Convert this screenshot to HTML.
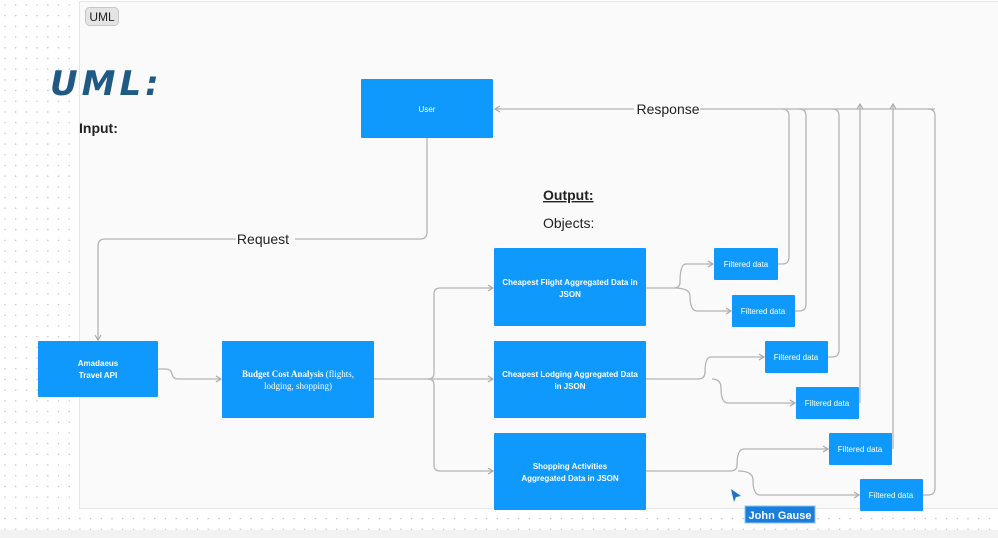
<!DOCTYPE html>
<html><head><meta charset="utf-8"><style>
html,body{margin:0;padding:0;width:998px;height:538px;overflow:hidden;background:#fff;font-family:"Liberation Sans",sans-serif}
</style></head><body>
<svg width="998" height="538" xmlns="http://www.w3.org/2000/svg" font-family="Liberation Sans, sans-serif">
<defs>
<pattern id="dots" width="10.7" height="10.7" patternUnits="userSpaceOnUse"><circle cx="5" cy="5" r="0.7" fill="#c0c0c0"/></pattern>
<marker id="ar" markerWidth="8" markerHeight="8" refX="6" refY="4" orient="auto" markerUnits="userSpaceOnUse"><path d="M1,1 L6,4 L1,7" fill="none" stroke="#aaa" stroke-width="1.2"/></marker>
</defs>
<rect width="998" height="538" fill="url(#dots)"/>
<rect x="0" y="530" width="998" height="8" fill="#f2f2f2"/>
<rect x="79.5" y="1.5" width="930" height="507" fill="#fafafa" stroke="#e6e6e6"/>
<rect x="85.5" y="7.5" width="33" height="18" rx="4" fill="#e4e4e4" stroke="#c8c8c8"/>
<text x="102" y="21" font-size="12" text-anchor="middle" fill="#222">UML</text>
<text x="50" y="95" font-size="34" font-weight="bold" fill="#1f5a85" font-style="italic" font-family="DejaVu Sans, sans-serif" letter-spacing="4">UML:</text>
<text x="79" y="133" font-size="14" font-weight="bold" fill="#222">Input:</text>
<text x="543" y="200" font-size="14" font-weight="bold" fill="#222" text-decoration="underline">Output:</text>
<text x="543" y="228" font-size="14" fill="#222">Objects:</text>
<g fill="none" stroke="#b4b4b4" stroke-width="1.3">
<path d="M427,138 V232 Q427,239 420,239 H295"/>
<path d="M236,239 H105 Q98,239 98,246 V340" marker-end="url(#ar)"/>
<path d="M158,369 H166 Q171,369 172,374 Q173,379 178,379 H221" marker-end="url(#ar)"/>
<path d="M374,379 H428 Q434,379 434,373 V294 Q434,288 440,288 H493" marker-end="url(#ar)"/>
<path d="M428,379 H493" marker-end="url(#ar)"/>
<path d="M428,379 Q434,379 434,385 V465 Q434,471 440,471 H493" marker-end="url(#ar)"/>
<path d="M700,109 H935"/>
<path d="M634,109 H495" marker-end="url(#ar)"/>
<path d="M646,288 H674 Q680,288 680,282 Q680,264 686,264 H713" marker-end="url(#ar)"/>
<path d="M674,288 Q690,288 690,296 Q690,311 697,311 H731" marker-end="url(#ar)"/>
<path d="M646,379 H698 Q705,379 705,372 Q705,357 711,357 H764" marker-end="url(#ar)"/>
<path d="M712,379 Q721,379 721,388 Q721,403 728,403 H795" marker-end="url(#ar)"/>
<path d="M646,471 H730 Q737,471 737,465 Q737,449 744,449 H828" marker-end="url(#ar)"/>
<path d="M738,471 Q753,471 753,480 Q753,495 760,495 H859" marker-end="url(#ar)"/>
<path d="M778,264 H782 Q789,264 789,257 V116 Q789,109 782,109"/>
<path d="M795,311 H799 Q806,311 806,304 V116 Q806,109 799,109"/>
<path d="M828,357 H832 Q839,357 839,350 V116 Q839,109 832,109"/>
<path d="M860,403 V104" marker-end="url(#ar)"/>
<path d="M893,449 V104" marker-end="url(#ar)"/>
<path d="M923,495 H928 Q935,495 935,488 V116 Q935,109 928,109"/>
</g>
<text x="668" y="114" font-size="14" text-anchor="middle" fill="#222">Response</text>
<text x="263" y="244" font-size="14" text-anchor="middle" fill="#222">Request</text>
<g fill="#0f99fd">
<rect x="361" y="79" width="132" height="59" rx="1"/>
<rect x="38" y="341" width="120" height="56" rx="1"/>
<rect x="222" y="341" width="152" height="77" rx="1"/>
<rect x="494" y="248" width="152" height="78" rx="1"/>
<rect x="494" y="341" width="152" height="77" rx="1"/>
<rect x="494" y="433" width="152" height="77" rx="1"/>
<rect x="714" y="248" width="64" height="32" rx="1"/>
<rect x="732" y="295" width="63" height="32" rx="1"/>
<rect x="765" y="341" width="63" height="32" rx="1"/>
<rect x="796" y="387" width="63" height="32" rx="1"/>
<rect x="829" y="433" width="63" height="32" rx="1"/>
<rect x="860" y="479" width="63" height="32" rx="1"/>
</g>
<g fill="#fff" font-size="8" text-anchor="middle">
<text x="427" y="112">User</text>
<text x="98" y="366" font-weight="bold">Amadaeus</text>
<text x="98" y="378" font-weight="bold">Travel API</text>
<text x="298" y="377" font-family="Liberation Serif, serif" font-size="9"><tspan font-weight="bold">Budget Cost Analysis</tspan> (flights,</text>
<text x="298" y="389" font-family="Liberation Serif, serif" font-size="9">lodging, shopping)</text>
<text x="570" y="285" font-weight="bold">Cheapest Flight Aggregated Data in</text>
<text x="570" y="297" font-weight="bold">JSON</text>
<text x="570" y="377" font-weight="bold">Cheapest Lodging Aggregated Data</text>
<text x="570" y="389" font-weight="bold">in JSON</text>
<text x="570" y="469" font-weight="bold">Shopping Activities</text>
<text x="570" y="481" font-weight="bold">Aggregated Data in JSON</text>
<text x="746" y="267">Filtered data</text>
<text x="763" y="314">Filtered data</text>
<text x="796" y="360">Filtered data</text>
<text x="827" y="406">Filtered data</text>
<text x="860" y="452">Filtered data</text>
<text x="891" y="498">Filtered data</text>
</g>
<path d="M731,489 L741,496 L736,497 L734,502 Z" fill="#1a73c9"/>
<rect x="745" y="506" width="70" height="17" fill="#1a7fdc" stroke="#8cc4f5"/>
<text x="780" y="519" font-size="11" font-weight="bold" fill="#fff" text-anchor="middle">John Gause</text>
</svg>
</body></html>
